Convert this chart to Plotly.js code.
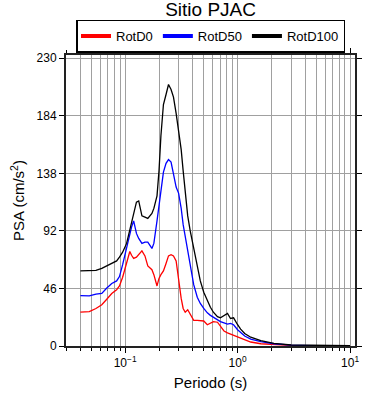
<!DOCTYPE html>
<html>
<head>
<meta charset="utf-8">
<script src="https://cdn.plot.ly/plotly-3.0.1.min.js"></script>
<style>html,body{margin:0;padding:0;background:#fff;}#chart{width:390px;height:400px;}</style>
</head>
<body>
<div id="chart"></div>
<script>
const periods = [0.040,0.048,0.055,0.062,0.068,0.076,0.084,0.089,0.095,0.103,0.110,0.114,0.119,0.126,0.132,0.141,0.150,0.159,0.173,0.180,0.192,0.200,0.208,0.219,0.231,0.243,0.256,0.269,0.284,0.299,0.315,0.328,0.342,0.360,0.379,0.407,0.438,0.466,0.500,0.538,0.573,0.609,0.662,0.704,0.757,0.813,0.865,0.921,1.000,1.064,1.156,1.308,1.608,2.103,2.988,4.515,6.82,10.0];

const rotD0 = [27,27.5,30,33,37,42,45,48,55,66,75.5,72.5,70,71,73,76,72,64,61,57,48,54,57,60,66,72,73,72,68,52,38,30,27,29,25,20.5,20.5,20,20,17,18,19.5,19,16,12,10.5,9.5,8.5,7,6,5,3.2,1.8,1.0,0.5,0.2,0.15,0.1];

const rotD50 = [40.3,40,41.5,42,46,50,52,55.5,65,79,88,95,100,90,86,82,83,83,78,82,100,112,128,139,146,149,147,136,127,122,110,97,88,76,64,49,39,34,30,26.5,24.5,23,21,19.5,18.5,17.5,18,17,13,11,8,5.5,3.5,1.8,0.7,0.3,0.2,0.15];

const rotD100 = [60,60,60.5,62,64,66,68,71,75,82,93,100,107,115,116,104,103,102,106,110,120,140,168,193,201,209,205,199,186,172,157,140,122,104,92,78,63,52,43,36,31,27,23.5,22.5,24,26,22,22.5,17,13.5,10,7,4.3,2.1,0.8,0.4,0.25,0.2];

const seriesNames = ['RotD0','RotD50','RotD100'];
const seriesColors = ['#ff0000','#0000ff','#000000'];
const yTicks = [0,46,92,138,184,230];
const xMajorTicks = [0.1,1,10];
const xMajorText = ['10<sup>−1</sup>','10<sup>0</sup>','10<sup>1</sup>'];

const minorVals = [];
[0.01,0.1,1].forEach(d => { for (let k=2;k<=9;k++) minorVals.push(+(k*d).toFixed(4)); });

const data = [rotD0, rotD50, rotD100].map((ys,i) => ({
  x: periods, y: ys, type: 'scatter', mode: 'lines',
  name: seriesNames[i], showlegend: false, legendgroup: seriesNames[i],
  line: {color: seriesColors[i], width: 1.3}
}));
// legend-only entries with thicker key lines
seriesNames.forEach((n,i) => data.push({
  x: [null], y: [null], type: 'scatter', mode: 'lines',
  name: n, legendgroup: n, showlegend: true,
  line: {color: seriesColors[i], width: 4}
}));

const font = "Liberation Sans, Arial, sans-serif";
const layout = {
  width: 390, height: 400,
  margin: {l: 66, r: 35, t: 55, b: 54},
  paper_bgcolor: '#fff', plot_bgcolor: '#fff',
  font: {family: font, color: '#000', size: 12},
  title: {text: 'Sitio PJAC', font: {size: 19, family: font}, x: 0.54, xanchor: 'center', y: 0.976, yanchor: 'middle'},
  showlegend: true,
  legend: {
    orientation: 'h', x: 0.5, xanchor: 'center', y: 1.008, yanchor: 'bottom',
    bordercolor: '#000', borderwidth: 1.5, bgcolor: '#fff',
    font: {size: 13, family: font},
    tracegroupgap: 0
  },
  xaxis: {
    type: 'log', range: [-1.526, 1.044],
    tickmode: 'array', tickvals: xMajorTicks, ticktext: xMajorText,
    ticks: 'outside', ticklen: 5, tickwidth: 1, tickcolor: '#000',
    showgrid: true, gridcolor: '#a0a0a0', gridwidth: 1,
    minor: {tickmode: 'array', tickvals: minorVals, ticks: 'outside', ticklen: 3, tickcolor: '#000', showgrid: true, gridcolor: '#a0a0a0', gridwidth: 1},
    showline: true, linecolor: '#222', linewidth: 2, mirror: 'ticks',
    zeroline: false,
    tickfont: {size: 12, family: font},
    title: {text: 'Periodo (s)', font: {size: 15, family: font}, standoff: 8}
  },
  yaxis: {
    range: [0, 232.6],
    tickmode: 'array', tickvals: yTicks,
    ticks: 'outside', ticklen: 5, tickwidth: 1, tickcolor: '#000',
    showgrid: true, gridcolor: '#a0a0a0', gridwidth: 1,
    showline: true, linecolor: '#222', linewidth: 2, mirror: 'ticks',
    zeroline: false,
    tickfont: {size: 12, family: font},
    title: {text: 'PSA (cm/s<sup>2</sup>)', font: {size: 15, family: font}, standoff: 8}
  }
};

Plotly.newPlot('chart', data, layout, {displayModeBar: false, staticPlot: true});
</script>
</body>
</html>
